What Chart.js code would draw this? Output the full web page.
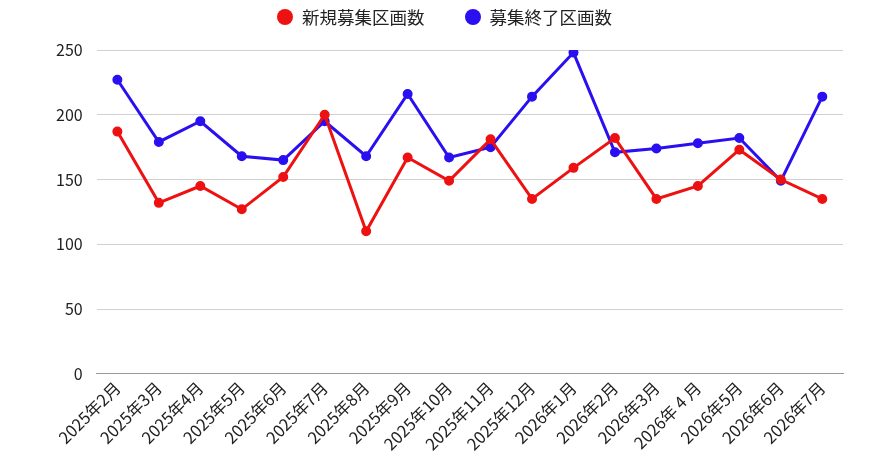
<!DOCTYPE html>
<html>
<head>
<meta charset="utf-8">
<script src="https://cdn.jsdelivr.net/npm/chart.js@4"></script>
<style>
  html, body { margin: 0; padding: 0; background: #fff; }
  #wrap { position: relative; width: 889px; height: 470px; }
  #legend {
    position: absolute; left: 0; right: 0; top: 5px;
    display: flex; justify-content: center; gap: 40px;
    font-family: 'Noto Sans CJK JP', 'Noto Sans', sans-serif;
    font-size: 17.5px; line-height: 24px; color: #222;
  }
  #legend .item { display: flex; align-items: center; }
  #legend .dot { width: 16px; height: 16px; border-radius: 50%; margin-right: 9px; }
</style>
</head>
<body>
<div id="wrap"><canvas id="chart"></canvas><div id="legend"></div></div>
<script>
// ラベルと系列データ
const months = [
  '2025年2月', '2025年3月', '2025年4月', '2025年5月', '2025年6月', '2025年7月',
  '2025年8月', '2025年9月', '2025年10月', '2025年11月', '2025年12月', '2026年1月',
  '2026年2月', '2026年3月', '2026年 4 月', '2026年5月', '2026年6月', '2026年7月'
];
const newListings = [187, 132, 145, 127, 152, 200, 110, 167, 149, 181, 135, 159, 182, 135, 145, 173, 150, 135];
const closedListings = [227, 179, 195, 168, 165, 195, 168, 216, 167, 175, 214, 248, 171, 174, 178, 182, 149, 214];
const yTicks = [0, 50, 100, 150, 200, 250];

const FONT = "'Noto Sans CJK JP', 'Noto Sans', sans-serif";

const ctx = document.getElementById('chart').getContext('2d');
const chart = new Chart(ctx, {
  type: 'line',
  data: {
    labels: months,
    datasets: [
      {
        label: '新規募集区画数',
        data: newListings,
        borderColor: '#ee1111',
        backgroundColor: '#ee1111',
        borderWidth: 3,
        pointRadius: 3.5,
        tension: 0
      },
      {
        label: '募集終了区画数',
        data: closedListings,
        borderColor: '#2a0ff0',
        backgroundColor: '#2a0ff0',
        borderWidth: 3,
        pointRadius: 3.5,
        tension: 0
      }
    ]
  },
  options: {
    responsive: true,
    maintainAspectRatio: false,
    animation: false,
    layout: { padding: { left: 42, right: 46, top: 50, bottom: 12 } },
    scales: {
      x: {
        offset: true,
        grid: { display: false, drawTicks: false },
        border: { color: '#999', width: 1 },
        ticks: {
          color: '#222',
          font: { family: FONT, size: 16.5 },
          maxRotation: 45,
          minRotation: 45,
          autoSkip: false,
          padding: 4
        }
      },
      y: {
        min: 0,
        max: 250,
        afterBuildTicks: axis => { axis.ticks = yTicks.map(v => ({ value: v })); },
        grid: { color: '#d0d0d0', drawTicks: false },
        border: { display: false },
        ticks: {
          color: '#222',
          font: { family: FONT, size: 16 },
          padding: 14
        }
      }
    },
    plugins: {
      legend: { display: false },
      tooltip: { enabled: false }
    }
  }
});

// 凡例はHTMLで描く（項目間の間隔を合わせるため）
const legendEl = document.getElementById('legend');
chart.data.datasets.forEach(ds => {
  const item = document.createElement('div');
  item.className = 'item';
  const dot = document.createElement('span');
  dot.className = 'dot';
  dot.style.background = ds.borderColor;
  const text = document.createElement('span');
  text.textContent = ds.label;
  item.appendChild(dot);
  item.appendChild(text);
  legendEl.appendChild(item);
});
</script>
</body>
</html>
